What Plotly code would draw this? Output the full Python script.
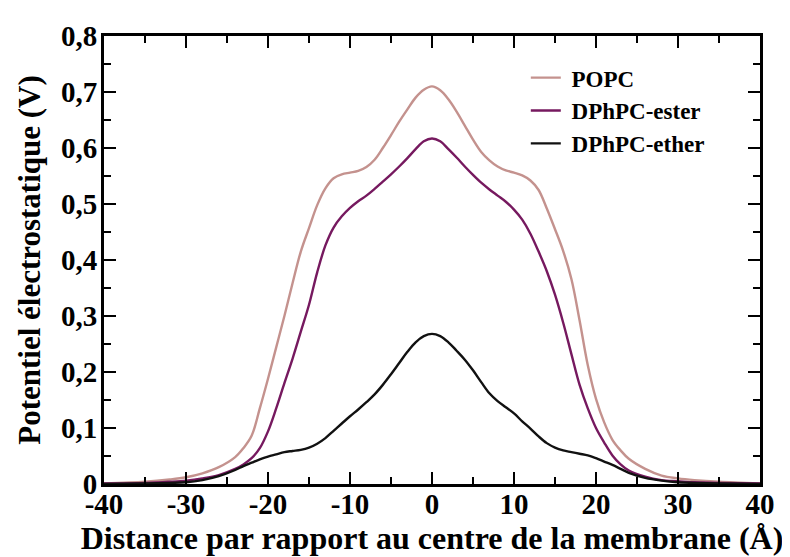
import plotly.graph_objects as go

# distance from membrane centre (Å)
distance = [-40, -35, -32, -30, -28, -26, -24, -23, -22, -21, -20, -19, -18, -17, -16,
            -15, -14, -13, -12, -11, -10, -9, -8, -7, -6, -5, -4, -3, -2, -1, 0,
            1, 2, 3, 4, 5, 6, 7, 8, 9, 10, 11, 12, 13, 14, 15, 16, 17, 18, 19, 20,
            21, 22, 23, 24, 26, 28, 30, 32, 35, 40]

# electrostatic potential (V)
popc = [0.001, 0.004, 0.008, 0.012, 0.019, 0.030, 0.048, 0.064, 0.086, 0.135, 0.188,
        0.244, 0.300, 0.359, 0.415, 0.457, 0.498, 0.528, 0.546, 0.553, 0.556, 0.559,
        0.566, 0.579, 0.600, 0.623, 0.647, 0.669, 0.690, 0.704, 0.710,
        0.703, 0.687, 0.665, 0.640, 0.615, 0.593, 0.578, 0.567, 0.560, 0.556, 0.551,
        0.542, 0.525, 0.492, 0.455, 0.416, 0.366, 0.292, 0.212, 0.152, 0.110, 0.079,
        0.060, 0.045, 0.027, 0.015, 0.010, 0.007, 0.004, 0.001]

dphpc_ester = [0.001, 0.002, 0.004, 0.006, 0.010, 0.016, 0.027, 0.035, 0.046, 0.064,
               0.094, 0.135, 0.180, 0.224, 0.272, 0.320, 0.378, 0.426, 0.458, 0.478,
               0.493, 0.505, 0.515, 0.527, 0.540, 0.553, 0.567, 0.582, 0.598, 0.612, 0.617,
               0.612, 0.598, 0.583, 0.567, 0.552, 0.538, 0.526, 0.515, 0.504, 0.490,
               0.472, 0.447, 0.415, 0.380, 0.338, 0.288, 0.232, 0.177, 0.135, 0.100,
               0.074, 0.051, 0.035, 0.024, 0.013, 0.007, 0.005, 0.003, 0.002, 0.001]

dphpc_ether = [0.000, 0.001, 0.002, 0.003, 0.007, 0.014, 0.025, 0.032, 0.038, 0.044,
               0.049, 0.053, 0.057, 0.059, 0.061, 0.065, 0.072, 0.082, 0.095, 0.108,
               0.121, 0.133, 0.146, 0.160, 0.177, 0.196, 0.216, 0.236, 0.253, 0.264, 0.268,
               0.264, 0.253, 0.238, 0.222, 0.203, 0.182, 0.162, 0.148, 0.137, 0.126,
               0.112, 0.099, 0.085, 0.073, 0.065, 0.060, 0.057, 0.054, 0.051, 0.046,
               0.040, 0.034, 0.027, 0.020, 0.011, 0.006, 0.003, 0.002, 0.001, 0.000]

x_ticks = [-40, -30, -20, -10, 0, 10, 20, 30, 40]
x_tick_labels = ['-40', '-30', '-20', '-10', '0', '10', '20', '30', '40']
y_ticks = [0, 0.1, 0.2, 0.3, 0.4, 0.5, 0.6, 0.7, 0.8]
y_tick_labels = ['0', '0,1', '0,2', '0,3', '0,4', '0,5', '0,6', '0,7', '0,8']

series = [
    ('POPC', popc, '#c4928e'),
    ('DPhPC-ester', dphpc_ester, '#76195f'),
    ('DPhPC-ether', dphpc_ether, '#111111'),
]

FONT = 'Liberation Serif'


def bold(labels):
    return ['<b>%s</b>' % s for s in labels]


fig = go.Figure()
for name, values, color in series:
    fig.add_trace(go.Scatter(
        x=distance, y=values, name='&nbsp;<b>%s</b>' % name, mode='lines',
        line=dict(color=color, width=2.4, shape='spline', smoothing=1.0),
    ))

axis_style = dict(
    showline=True, linecolor='black', linewidth=3, mirror='allticks',
    ticks='inside', ticklen=12, tickwidth=2, tickcolor='black',
    showgrid=False, zeroline=False,
    tickfont=dict(family=FONT, size=29, color='black'),
    minor=dict(ticks='inside', ticklen=7, tickwidth=2, tickcolor='black'),
)

fig.update_xaxes(
    range=[-40, 40], tickvals=x_ticks, ticktext=bold(x_tick_labels),
    minor_dtick=5, ticklabelstandoff=-8,
    title=dict(text='<b>Distance par rapport au centre de la membrane (Å)</b>',
               font=dict(family=FONT, size=32, color='black'), standoff=0),
    **axis_style,
)
fig.update_yaxes(
    range=[0, 0.8], tickvals=y_ticks, ticktext=bold(y_tick_labels),
    minor_dtick=0.05, ticklabelstandoff=-2,
    title=dict(text='<b>Potentiel électrostatique (V)</b>',
               font=dict(family=FONT, size=31, color='black'), standoff=12),
    **axis_style,
)

fig.update_layout(
    width=790, height=557,
    margin=dict(l=96, r=38, t=19, b=81),
    plot_bgcolor='white', paper_bgcolor='white',
    font=dict(family=FONT, color='black'),
    legend=dict(
        x=0.643, y=0.955, xanchor='left', yanchor='top',
        bgcolor='rgba(0,0,0,0)', borderwidth=0,
        font=dict(family=FONT, size=23, color='black'),
        itemwidth=30, tracegroupgap=0,
    ),
)

fig.write_html('out.html')
